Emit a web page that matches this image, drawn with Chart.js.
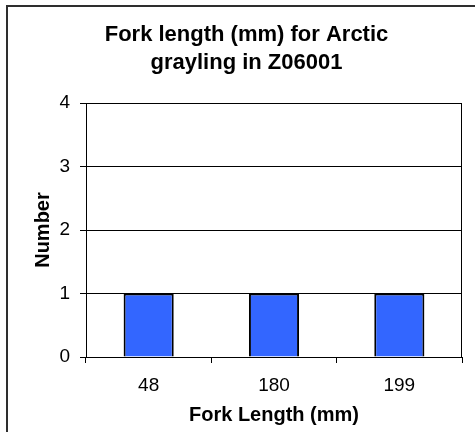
<!DOCTYPE html>
<html>
<head>
<meta charset="utf-8">
<script src="https://cdn.jsdelivr.net/npm/chart.js@4/dist/chart.umd.min.js"></script>
<style>
  html, body { margin: 0; padding: 0; background: #fff; overflow: hidden; }
  #frame {
    position: absolute; left: 6px; top: 5px;
    width: 475px; height: 432px;
    border-left: 2px solid #2e2e2e; border-top: 2px solid #2e2e2e;
  }
  #frame canvas { display: block; }
</style>
</head>
<body>
<div id="frame"><canvas id="chart" width="467" height="425"></canvas></div>
<script>
const titleLines = ['Fork length (mm) for Arctic', 'grayling in Z06001'];
const lengths = ['48', '180', '199'];
const counts = [1, 1, 1];
const yMax = 4;

// box round the plot area, as in the spreadsheet chart
const plotBorder = {
    id: 'plotBorder',
    afterDraw(chart) {
        const a = chart.chartArea;
        const ctx = chart.ctx;
        ctx.save();
        ctx.strokeStyle = '#000';
        ctx.lineWidth = 1;
        ctx.strokeRect(Math.round(a.left) + 0.5, Math.round(a.top) + 0.5,
            Math.round(a.right - a.left) - 1, Math.round(a.bottom - a.top));
        ctx.restore();
    }
};

Chart.defaults.font.family = '"Liberation Sans", Arial, sans-serif';
Chart.defaults.color = '#000';

new Chart('chart', {
    type: 'bar',
    data: {
        labels: lengths,
        datasets: [{
            label: 'Number',
            data: counts,
            backgroundColor: '#3366ff',
            borderColor: '#000',
            borderWidth: 2,
            categoryPercentage: 1,
            barPercentage: 0.4
        }]
    },
    options: {
        responsive: false,
        animation: false,
        events: [],
        layout: { padding: { left: 23, right: 13, top: 0, bottom: 5 } },
        plugins: {
            legend: { display: false },
            tooltip: { enabled: false },
            title: {
                display: true,
                text: titleLines,
                font: { size: 22, weight: 'bold', lineHeight: 1.273 },
                padding: { top: 14, bottom: 26 }
            }
        },
        scales: {
            x: {
                grid: { drawOnChartArea: false, drawTicks: true, tickLength: 6, color: '#000', offset: true },
                border: { display: true, color: '#000', width: 1 },
                ticks: { font: { size: 19 }, padding: 11 },
                title: {
                    display: true,
                    text: 'Fork Length (mm)',
                    font: { size: 20, weight: 'bold' },
                    padding: 0
                },
                afterFit: (scale) => { scale.height = 70; }
            },
            y: {
                min: 0,
                max: yMax,
                grid: { color: '#000', tickLength: 6 },
                border: { display: true, color: '#000', width: 1 },
                ticks: { stepSize: 1, font: { size: 19 }, padding: 10 },
                title: {
                    display: true,
                    text: 'Number',
                    font: { size: 20, weight: 'bold' },
                    padding: 0
                },
                afterFit: (scale) => { scale.width = 55; }
            }
        }
    },
    plugins: [plotBorder]
});
</script>
</body>
</html>
